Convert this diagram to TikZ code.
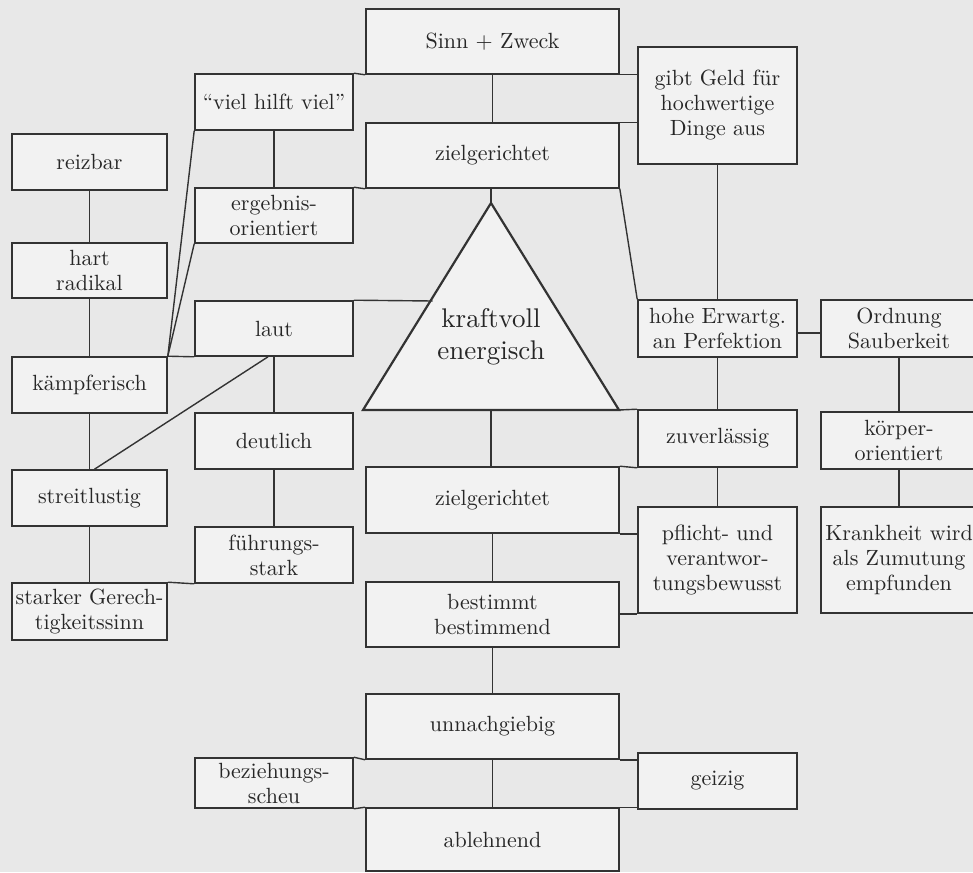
\documentclass[tikz,border=0pt]{standalone}
\usepackage{fontspec}
\setmainfont{lmroman10-regular.otf}
\usepackage{tikz}
\usetikzlibrary{calc}
\definecolor{paper}{gray}{0.91}
\definecolor{boxfill}{gray}{0.95}
\definecolor{ink}{gray}{0.2}

\begin{document}
\begin{tikzpicture}[x=1pt, y=-1pt,
    box/.style={draw=ink, line width=1.6pt, fill=boxfill, text=black!85, align=center,
        inner sep=0pt, font=\fontsize{22}{25}\selectfont},
    lcol/.style={box, minimum width=155pt},
    mcol/.style={box, minimum width=158pt},
    ccol/.style={box, minimum width=253pt},
    rcol/.style={box, minimum width=159pt},
    fcol/.style={box, minimum width=156pt},
    link/.style={draw=ink, line width=1.4pt},
    tri/.style={draw=ink, line width=2.2pt, fill=boxfill}]
    \useasboundingbox (0,0) rectangle (973,872);
    \fill[paper] (0,0) rectangle (973,872);
    \clip (0,0) rectangle (973,872);

    % linke Spalte
    \node[lcol, minimum height=56pt] (reizbar) at (89.5,162) {reizbar};
    \node[lcol, minimum height=55pt] (hart) at (89.5,270.5) {hart\\radikal};
    \node[lcol, minimum height=56pt] (kaempf) at (89.5,385) {kämpferisch};
    \node[lcol, minimum height=56pt] (streit) at (89.5,498) {streitlustig};
    \node[lcol, minimum height=57pt] (gerecht) at (89.5,611.5) {starker Gerech-\\tigkeitssinn};

    % zweite Spalte
    \node[mcol, minimum height=56pt] (viel) at (274,102) {``viel hilft viel''};
    \node[mcol, minimum height=55pt] (ergebnis) at (274,215.5) {ergebnis-\\orientiert};
    \node[mcol, minimum height=55pt] (laut) at (274,328.5) {laut};
    \node[mcol, minimum height=56pt] (deutlich) at (274,441) {deutlich};
    \node[mcol, minimum height=56pt] (fuehrung) at (274,555) {führungs-\\stark};
    \node[mcol, minimum height=50pt] (beziehung) at (274,783) {beziehungs-\\scheu};

    % Mitte
    \node[ccol, minimum height=65pt] (sinn) at (492.5,41.5) {Sinn + Zweck};
    \node[ccol, minimum height=65pt] (ziel1) at (492.5,155.5) {zielgerichtet};
    \coordinate (apex) at (491,203);
    \coordinate (bl) at (363,410);
    \coordinate (br) at (619,410);
    \draw[tri] (apex) -- (bl) -- (br) -- cycle;
    \node[text=black!85, align=center, font=\fontsize{27}{32}\selectfont] (kraft) at (491,337) {kraftvoll\\energisch};
    \node[ccol, minimum height=66pt] (ziel2) at (492.5,500) {zielgerichtet};
    \node[ccol, minimum height=65pt] (bestimmt) at (492.5,614.5) {bestimmt\\bestimmend};
    \node[ccol, minimum height=65pt] (unnach) at (492.5,726.5) {unnachgiebig};
    \node[ccol, minimum height=63pt] (ablehn) at (492.5,839.5) {ablehnend};

    % rechte Spalte
    \node[rcol, minimum height=117pt] (geld) at (717.5,105.5) {gibt Geld für\\hochwertige\\Dinge aus};
    \node[rcol, minimum height=57pt] (hohe) at (717.5,328.5) {hohe Erwartg.\\an Perfektion};
    \node[rcol, minimum height=57pt] (zuverl) at (717.5,438.5) {zuverlässig};
    \node[rcol, minimum height=106pt] (pflicht) at (717.5,560) {pflicht- und\\verantwor-\\tungsbewusst};
    \node[rcol, minimum height=56pt] (geizig) at (717.5,781) {geizig};

    % ganz rechts
    \node[fcol, minimum height=57pt] (ordnung) at (899,328.5) {Ordnung\\Sauberkeit};
    \node[fcol, minimum height=57pt] (koerper) at (899,440.5) {körper-\\orientiert};
    \node[fcol, minimum height=106pt] (krank) at (899,560) {Krankheit wird\\als Zumutung\\empfunden};

    % senkrechte Verbindungen
    \draw[link] (reizbar) -- (hart);
    \draw[link] (hart) -- (kaempf);
    \draw[link] (kaempf) -- (streit);
    \draw[link] (streit) -- (gerecht);
    \draw[link] (viel) -- (ergebnis);
    \draw[link] (laut) -- (deutlich);
    \draw[link] (deutlich) -- (fuehrung);
    \draw[link] (sinn) -- (ziel1);
    \draw[link] (ziel1.south -| apex) -- (apex);
    \draw[link] (apex |- bl) -- (ziel2.north -| apex);
    \draw[link] (ziel2) -- (bestimmt);
    \draw[link] (bestimmt) -- (unnach);
    \draw[link] (unnach) -- (ablehn);
    \draw[link] (geld) -- (hohe);
    \draw[link] (hohe) -- (zuverl);
    \draw[link] (zuverl) -- (pflicht);
    \draw[link] (ordnung) -- (koerper);
    \draw[link] (koerper) -- (krank);

    % waagrechte Verbindungen
    \draw[link] (viel.north east) -- (sinn.south west);
    \draw[link] (sinn.south east) -- (geld.west |- sinn.south);
    \draw[link] (ziel1.north east) -- (geld.west |- ziel1.north);
    \draw[link] (ergebnis.north east) -- (ziel1.south west);
    \draw[link] (kaempf.north east) -- (laut.south west);
    \draw[link] (laut.north east) -- (432.5,301);
    \draw[link] (br) -- (zuverl.north west);
    \draw[link] (ziel2.north east) -- (zuverl.south west);
    \draw[link] (ziel2.south east) -- (pflicht.west |- ziel2.south);
    \draw[link] (bestimmt.east |- pflicht.south) -- (pflicht.south west);
    \draw[link] (fuehrung.south west) -- (gerecht.north east);
    \draw[link] (hohe.east |- 0,333) -- (ordnung.west |- 0,333);
    \draw[link] (beziehung.north east) -- (unnach.south west);
    \draw[link] (beziehung.south east) -- (ablehn.north west);
    \draw[link] (unnach.south east) -- (geizig.west |- unnach.south);
    \draw[link] (ablehn.north east) -- (geizig.west |- ablehn.north);

    % schraege Verbindungen
    \draw[link] (viel.south west) -- (kaempf.north east);
    \draw[link] (ergebnis.south west) -- (kaempf.north east);
    \draw[link] ([xshift=-6pt]laut.south) -- ([xshift=5pt]streit.north);
    \draw[link] (ziel1.south east) -- (hohe.north west);
\end{tikzpicture}
\end{document}
